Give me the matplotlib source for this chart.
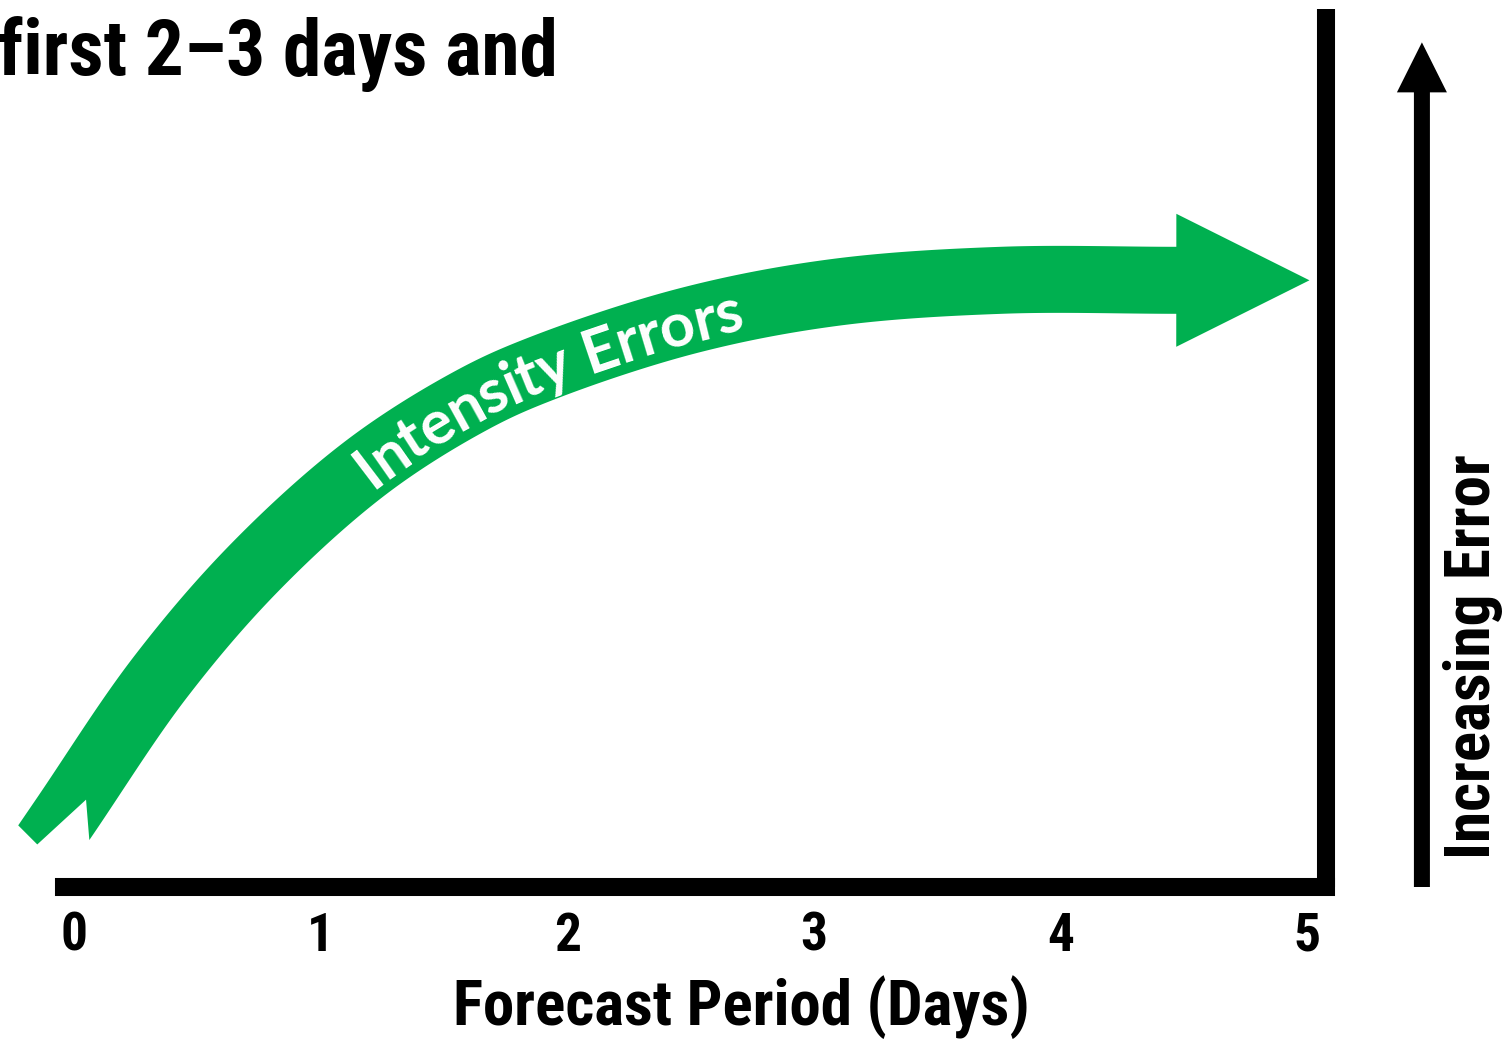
import numpy as np
import matplotlib
matplotlib.use('Agg')
from matplotlib import pyplot as plt
from matplotlib import font_manager
from matplotlib.font_manager import FontProperties
from matplotlib.patches import Polygon, FancyArrow

# centre line of the green arrow (days, error level)
days = [-0.05, 0.35, 0.74, 1.19, 1.61, 1.90, 2.49, 3.08, 3.76, 4.47]
error = [0.75, 2.39, 3.66, 4.79, 5.54, 5.91, 6.45, 6.77, 6.91, 6.91]
tip_day = 5.01
band_label = 'Intensity Errors'
label_day = 1.89

xticks = [0, 1, 2, 3, 4, 5]
xlabel = 'Forecast Period (Days)'
ylabel = 'Increasing Error'
title = 'first 2\u20133 days and'

GREEN = '#00b050'

installed = {f.name for f in font_manager.fontManager.ttflist}
cands = ['Roboto Condensed', 'Liberation Sans Narrow', 'Open Sans Condensed',
         'Noto Sans Condensed', 'Liberation Sans']
heavy_family = [f for f in cands if f in installed][:1] + ['DejaVu Sans']

fig = plt.figure(figsize=(15.02, 10.39), dpi=100)
renderer = fig.canvas.get_renderer()


def text_w(s, prop):
    return renderer.get_text_width_height_descent(s, prop, ismath=False)[0]


def heavy(target_w, s):
    # font size that gives the text the width it has in the picture
    p = FontProperties(family=heavy_family, weight='bold', size=40)
    p.set_size(40 * target_w / text_w(s, p))
    return p


ax = fig.add_axes([64 / 1502, 152 / 1039, 1262 / 1502, 878 / 1039])
ax.set_xlim(-10 / 246.6, 1252 / 246.6)
ax.set_ylim(0, 10)

for s in ['left', 'top']:
    ax.spines[s].set_visible(False)
for s in ['bottom', 'right']:
    ax.spines[s].set_linewidth(13)
    ax.spines[s].set_color('black')
ax.spines['bottom'].set_capstyle('projecting')
ax.spines['right'].set_capstyle('butt')

ax.set_xticks(xticks)
ax.set_xticklabels([str(t) for t in xticks], fontproperties=heavy(27, '0'))
ax.tick_params(axis='x', length=0, pad=17)
ax.set_yticks([])

ax.set_xlabel(xlabel, fontproperties=heavy(575, xlabel), va='baseline')
ax.xaxis.set_label_coords(0.537, -0.1572)
ax.text(1.1165, 0.262, ylabel, transform=ax.transAxes, rotation=90,
        ha='center', va='center', fontproperties=heavy(405, ylabel))
fig.text(-2 / 1502, 0.9278, title, ha='left', va='baseline',
         fontproperties=heavy(560, title))

# black "increasing error" arrow on the right
ax.add_patch(FancyArrow(5.466, 0, 0, 9.62, width=16 / 246.6, head_width=50 / 246.6,
                        head_length=50 / 87.8, length_includes_head=True,
                        color='black', lw=0, clip_on=False))


def catmull_rom(p, n=40, alpha=0.5):
    # centripetal Catmull-Rom through the points, only to draw a smooth band
    p = np.vstack([2 * p[0] - p[1], p, 2 * p[-1] - p[-2]])
    out = []
    for i in range(1, len(p) - 2):
        P0, P1, P2, P3 = p[i - 1], p[i], p[i + 1], p[i + 2]
        t0 = 0.0
        t1 = t0 + np.hypot(*(P1 - P0)) ** alpha
        t2 = t1 + np.hypot(*(P2 - P1)) ** alpha
        t3 = t2 + np.hypot(*(P3 - P2)) ** alpha
        t = np.linspace(t1, t2, n, endpoint=False)[:, None]
        A1 = (t1 - t) / (t1 - t0) * P0 + (t - t0) / (t1 - t0) * P1
        A2 = (t2 - t) / (t2 - t1) * P1 + (t - t1) / (t2 - t1) * P2
        A3 = (t3 - t) / (t3 - t2) * P2 + (t - t2) / (t3 - t2) * P3
        B1 = (t2 - t) / (t2 - t0) * A1 + (t - t0) / (t2 - t0) * A2
        B2 = (t3 - t) / (t3 - t1) * A2 + (t - t1) / (t3 - t1) * A3
        out.append((t2 - t) / (t2 - t1) * B1 + (t - t1) / (t2 - t1) * B2)
    out.append(p[-2][None])
    return np.vstack(out)


# build the green band in pixel space
pts = ax.transData.transform(np.column_stack([days, error]))
c = catmull_rom(pts)
tang = np.gradient(c, axis=0)
tang /= np.hypot(tang[:, 0], tang[:, 1])[:, None]
nrm = np.column_stack([tang[:, 1], -tang[:, 0]])
hw = 33.5
upper = c - hw * nrm
lower = c + hw * nrm

S, t0, n0 = c[0], tang[0], nrm[0]
tail = [S + hw * n0, S + 31.5 * t0 + 8 * n0, S - 33 * t0 - 7 * n0, S - 28 * t0 - hw * n0]
E, ne = c[-1], nrm[-1]
tip = ax.transData.transform((tip_day, error[-1]))
head = [E - 66.5 * ne, tip, E + 66.5 * ne]

verts = np.vstack([tail[3:], upper, head, lower[::-1], tail[:3]])
ax.add_patch(Polygon(ax.transData.inverted().transform(verts), closed=True,
                     fc=GREEN, ec='none', clip_on=False, zorder=2))

# curved white label
lab_family = [f for f in ['Lato', 'Open Sans'] if f in installed][:1] + ['DejaVu Sans']
prop = FontProperties(family=lab_family, weight='bold', size=40)
prop.set_size(40 * 420 / text_w(band_label, prop))

arc = np.concatenate([[0], np.cumsum(np.hypot(*np.diff(c, axis=0).T))])
cx = ax.transData.inverted().transform(c)[:, 0]
s_mid = arc[np.argmin(np.abs(cx - label_day))]
start = s_mid - text_w(band_label, prop) / 2
cap = 0.72 * prop.get_size() * 100 / 72
for i, ch in enumerate(band_label):
    if ch == ' ':
        continue
    s = start + text_w(band_label[:i + 1], prop) - text_w(ch, prop) / 2
    px = np.interp(s, arc, c[:, 0])
    py = np.interp(s, arc, c[:, 1])
    tx = np.interp(s, arc, tang[:, 0])
    ty = np.interp(s, arc, tang[:, 1])
    nn = np.array([ty, -tx]) / np.hypot(tx, ty)
    p = np.array([px, py]) + cap / 2 * nn
    xd, yd = ax.transData.inverted().transform(p)
    ax.text(xd, yd, ch, rotation=np.degrees(np.arctan2(ty, tx)), rotation_mode='anchor',
            ha='center', va='baseline', color='white', fontproperties=prop,
            clip_on=False, zorder=3)

fig.savefig('out.png', dpi=100, facecolor='white')
